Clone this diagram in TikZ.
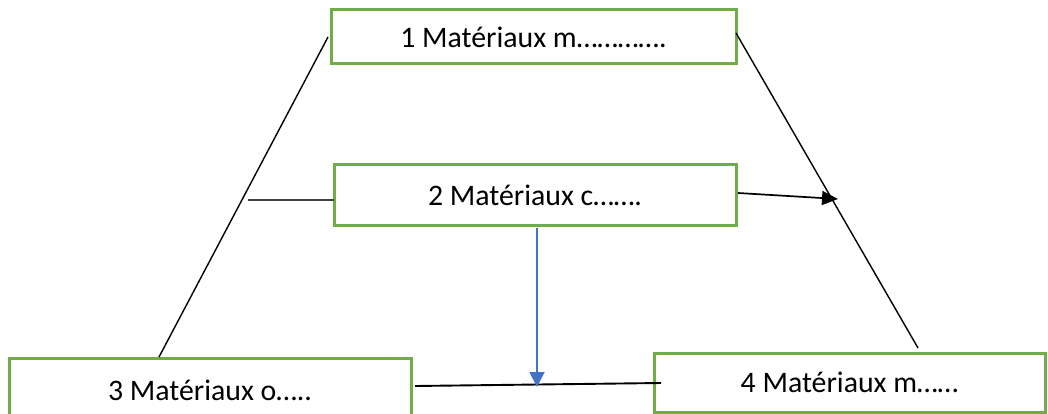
\documentclass[tikz,border=0pt]{standalone}
\usepackage{fontspec}
\setmainfont{Carlito}
\usetikzlibrary{arrows.meta}
\definecolor{boxgreen}{HTML}{70AD47}
\definecolor{arrowblue}{HTML}{4472C4}
\definecolor{darkline}{HTML}{404040}
\begin{document}
\begin{tikzpicture}[x=1pt,y=-1pt,
  matbox/.style={draw=boxgreen, line width=3pt, fill=white, rectangle,
    inner sep=0pt, outer sep=0pt, font=\fontsize{29.8}{35}\selectfont},
  link/.style={draw=black, line width=1.4pt},
  bar/.style={draw=black, line width=1.9pt},
  blackarrow/.style={draw=black, line width=1.7pt, -{Triangle[length=16pt,width=14pt]}},
  bluearrow/.style={draw=arrowblue, line width=1.9pt, -{Triangle[length=15pt,width=15pt]}},
  ]
\useasboundingbox (0,0) rectangle (1048,414);

% the four material boxes
\node[matbox, minimum width=405pt, minimum height=54pt] (b1) at (533.5,37) {1 Matériaux m………….};
\node[matbox, minimum width=402pt, minimum height=60pt] (b2) at (535,195) {2 Matériaux c…….};
\node[matbox, minimum width=402pt, minimum height=64pt] (b3) at (210,390) {3 Matériaux o…..};
\node[matbox, minimum width=391pt, minimum height=59pt] (b4) at (849.5,382.5) {4 Matériaux m……};

% end points of the connectors
\coordinate (lt) at (328,37);
\coordinate (lb) at (159,357);
\coordinate (rt) at (736,33);
\coordinate (rb) at (918,348);
\coordinate (h1) at (248,200);
\coordinate (a1) at (738,193);
\coordinate (a2) at (838,199);
\coordinate (v1) at (537,228);
\coordinate (v2) at (537,387);
\coordinate (m1) at (415,386);
\coordinate (m2) at (661,383);

% connectors
\draw[link] (lt) -- (lb);
\draw[link] (rt) -- (rb);
\draw[draw=darkline, line width=1.9pt] (h1) -- (h1 -| b2.west);
\draw[blackarrow] (a1) -- (a2);
\draw[bar] (m1) -- (m2);
\draw[bluearrow] (v1) -- (v2);
\end{tikzpicture}
\end{document}
